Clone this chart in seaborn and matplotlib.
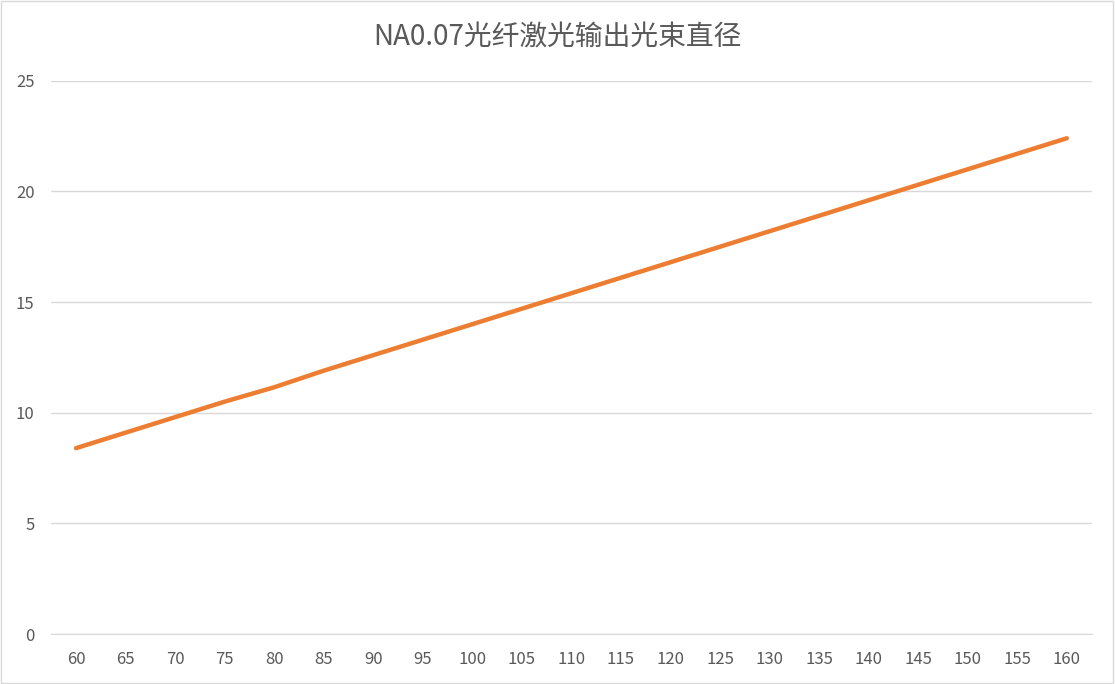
import matplotlib
matplotlib.use("Agg")
import matplotlib.pyplot as plt
import seaborn as sns
import pandas as pd

categories = [60, 65, 70, 75, 80, 85, 90, 95, 100, 105, 110, 115, 120, 125, 130, 135, 140, 145, 150, 155, 160]
values = [8.4, 9.1, 9.8, 10.5, 11.15, 11.9, 12.6, 13.3, 14.0, 14.7, 15.4, 16.1, 16.8, 17.5, 18.2, 18.9, 19.6, 20.3, 21.0, 21.7, 22.4]
y_ticks = [0, 5, 10, 15, 20, 25]

sns.set_style("white")
plt.rcParams['font.family'] = ['Noto Sans CJK SC', 'DejaVu Sans']

df = pd.DataFrame({"idx": range(len(categories)), "v": values})
fig = plt.figure(figsize=(11.15, 6.84), dpi=100)
ax = fig.add_axes([0.046, 0.073, 0.933, 0.809])
sns.lineplot(data=df, x="idx", y="v", ax=ax, color="#ED7D31", linewidth=3.2)
ax.set_xlim(-0.5, len(categories) - 0.5)
ax.set_ylim(0, 25)
ax.set_yticks(y_ticks)
ax.set_xticks(range(len(categories)))
ax.set_xticklabels([str(c) for c in categories])
ax.grid(axis="y", color="#D9D9D9", linewidth=1)
ax.set_axisbelow(True)
for s in ["top", "right", "left"]:
    ax.spines[s].set_visible(False)
ax.spines["bottom"].set_color("#D9D9D9")
ax.tick_params(axis="both", length=0, labelsize=12, labelcolor="#595959", pad=12)
ax.set_xlabel("")
ax.set_ylabel("")
fig.text(0.5, 0.945, "NA0.07光纤激光输出光束直径", ha="center", va="center", fontsize=20, color="#595959")
fig.patches.append(plt.Rectangle((0.001, 0.001), 0.997, 0.997, transform=fig.transFigure, fill=False, edgecolor="#D9D9D9", linewidth=1))
fig.savefig("out.png", dpi=100)
